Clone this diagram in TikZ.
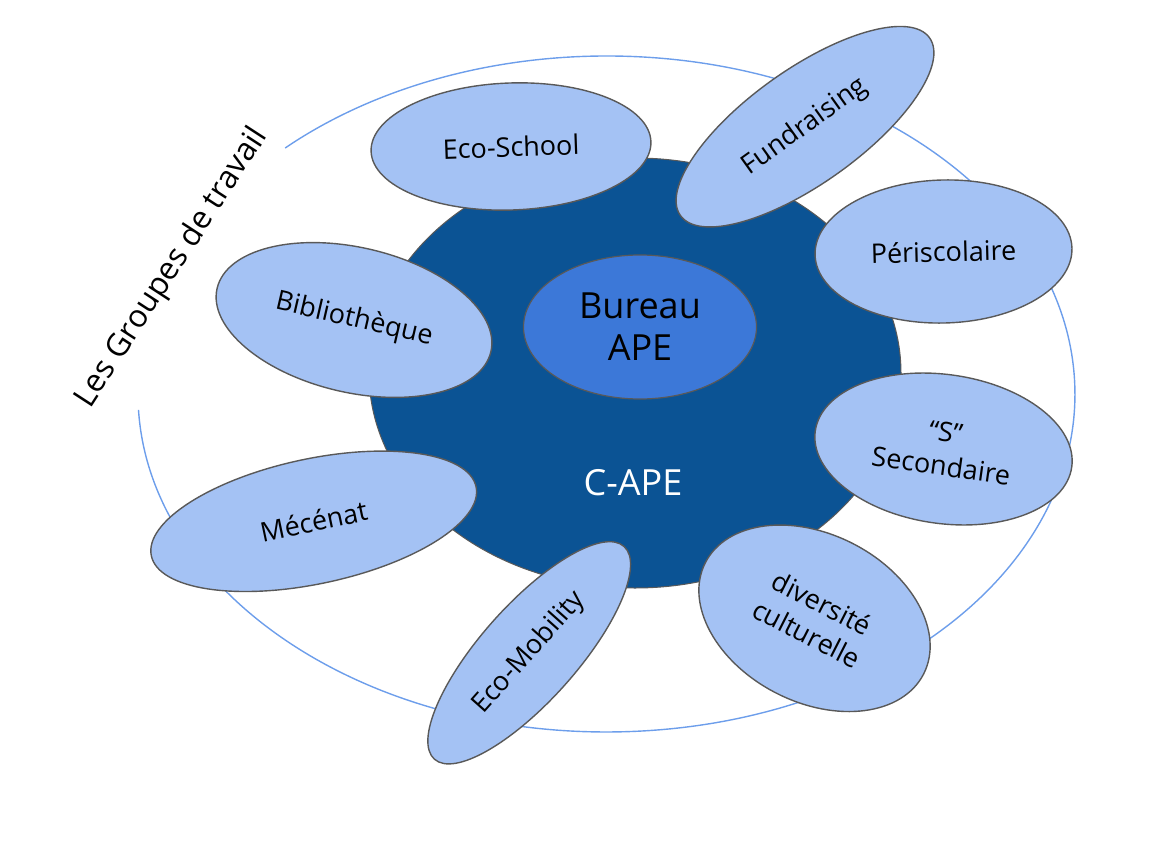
\documentclass[tikz,border=0pt]{standalone}
\usepackage{fontspec}
\setmainfont{Open Sans}
\usetikzlibrary{shapes.geometric}
\definecolor{lightsat}{HTML}{A4C2F4}
\definecolor{darkc}{HTML}{0B5394}
\definecolor{midc}{HTML}{3C78D8}
\definecolor{ringc}{HTML}{6D9EEB}
\definecolor{edgec}{HTML}{595959}
\begin{document}
\begin{tikzpicture}[x=1pt,y=-1pt,
  sat/.style={ellipse, draw=edgec, line width=1.4pt, fill=lightsat, inner sep=0pt,
    font=\fontsize{27}{34}\selectfont, align=center},
  big/.style={font=\fontsize{36}{42}\selectfont, align=center}]
\useasboundingbox (0,0) rectangle (1150,850);
% outer ring (open at the upper left)
\draw[ringc, line width=1.4pt] (138.5,409.9) arc[start angle=182.7, end angle=493.3, x radius=468.5pt, y radius=338pt];
% C-APE
\node[ellipse, draw=edgec, line width=1pt, fill=darkc, minimum width=532pt, minimum height=430pt, inner sep=0pt] (cape) at (635,373) {};
\node[big, text=white] (capelabel) at (633,483) {C-APE};
\node[ellipse, draw=edgec, line width=1.2pt, fill=midc, minimum width=233pt, minimum height=144pt, inner sep=0pt, big] (bureau) at (640,327) {Bureau\\APE};
% working groups
\node[sat, rotate=2, minimum width=280pt, minimum height=127pt] (ecoschool) at (511,146.5) {Eco-School};
\node[sat, rotate=35.5, minimum width=306pt, minimum height=114pt] (fundraising) at (805,126.7) {Fundraising};
\node[sat, rotate=1.5, minimum width=257pt, minimum height=143pt] (periscolaire) at (943.5,251.5) {Périscolaire};
\node[sat, rotate=-13, minimum width=281pt, minimum height=145pt] (biblio) at (354,320) {Bibliothèque};
\node[sat, rotate=-8, minimum width=259pt, minimum height=149pt] (secondaire) at (943.5,449) {“S”\\Secondaire};
\node[sat, rotate=12, minimum width=332pt, minimum height=125pt] (mecenat) at (313.7,521.3) {Mécénat};
\node[sat, rotate=48.3, minimum width=285pt, minimum height=96pt] (ecomob) at (529.2,652.8) {Eco-Mobility};
\node[sat, rotate=-27, minimum width=245pt, minimum height=168pt] (diversite) at (814.5,618.3) {diversité\\culturelle};
% title
\node[rotate=57, font=\fontsize{31.5}{36}\selectfont] (groupes) at (172,268) {Les Groupes de travail};
\end{tikzpicture}
\end{document}
